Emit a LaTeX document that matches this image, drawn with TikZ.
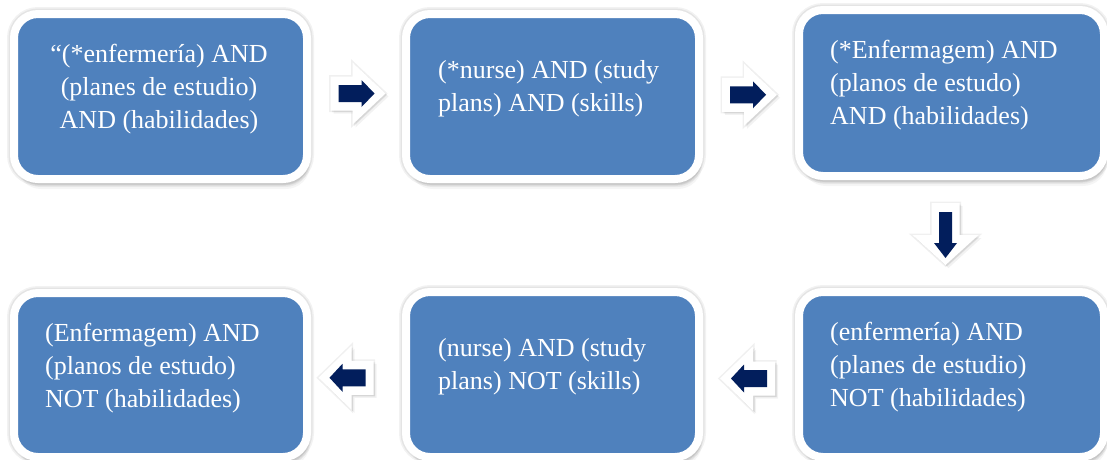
\documentclass[tikz,border=0pt]{standalone}
\usepackage{fontspec}
\setmainfont{Liberation Serif}
\usetikzlibrary{shadows,calc}
\definecolor{boxblue}{HTML}{4F81BD}
\definecolor{navy}{RGB}{2,30,92}
\tikzset{
  qbox/.style={draw=white, line width=8pt, fill=boxblue, rounded corners=24pt,
    inner sep=0pt, minimum width=293pt, minimum height=165pt,
    preaction={draw=black, opacity=0.05, line width=14pt},
    preaction={draw=black, opacity=0.06, line width=11pt},
    drop shadow={opacity=0.08, shadow xshift=3pt, shadow yshift=-10pt},
    drop shadow={opacity=0.10, shadow xshift=2.5pt, shadow yshift=-8pt},
    drop shadow={opacity=0.14, shadow xshift=2pt, shadow yshift=-6pt}},
  qtext/.style={text=white, font=\fontsize{26}{33}\selectfont, inner sep=0pt},
  wshape/.style={fill=white,
    preaction={draw=black, opacity=0.06, line width=3pt},
    drop shadow={opacity=0.10, shadow xshift=3pt, shadow yshift=-3pt},
    drop shadow={opacity=0.15, shadow xshift=1.5pt, shadow yshift=-1.5pt}},
  nshape/.style={fill=navy},
  rarrow/.pic={
    \path[wshape] (-27,-17) -- (-5,-17) -- (-5,-31) -- (28,0) -- (-5,31) -- (-5,17) -- (-27,17) -- cycle;
    \path[nshape] (-19,-8.5) -- (4,-8.5) -- (4,-13.5) -- (17,0) -- (4,13.5) -- (4,8.5) -- (-19,8.5) -- cycle;
  },
  larrow/.pic={
    \path[wshape] (27,-17) -- (5,-17) -- (5,-32) -- (-28,0) -- (5,32) -- (5,17) -- (27,17) -- cycle;
    \path[nshape] (19,-8.5) -- (-4,-8.5) -- (-4,-14) -- (-17,0) -- (-4,14) -- (-4,8.5) -- (19,8.5) -- cycle;
  },
  darrow/.pic={
    \path[wshape] (-14,-31) -- (14,-31) -- (14,1) -- (33,1) -- (0,31) -- (-33,1) -- (-14,1) -- cycle;
    \path[nshape] (-6.5,-22) -- (6.5,-22) -- (6.5,9) -- (11.5,9) -- (0,24) -- (-11.5,9) -- (-6.5,9) -- cycle;
  }
}
\begin{document}
\begin{tikzpicture}[x=1pt, y=-1pt]
  \useasboundingbox (0,0) rectangle (1107,459);

  % boxes
  \node[qbox] (b1) at (160.5,96.5) {};
  \node[qbox] (b2) at (552.5,96.5) {};
  \node[qbox, minimum width=305pt, minimum height=166pt] (b3) at (951.5,93) {};
  \node[qbox, minimum width=305pt] (b4) at (951.5,374.5) {};
  \node[qbox] (b5) at (552.5,374.5) {};
  \node[qbox, minimum height=164pt] (b6) at (160.5,375) {};

  % texts
  \node[qtext, align=center, anchor=center] (t1) at (159,89)
    {“(*enfermería) AND\\(planes de estudio)\\AND (habilidades)};
  \node[qtext, align=left, anchor=west] (t2) at (438,89)
    {(*nurse) AND (study\\plans) AND (skills)};
  \node[qtext, align=left, anchor=west] (t3) at (830,85)
    {(*Enfermagem) AND\\(planos de estudo)\\AND (habilidades)};
  \node[qtext, align=left, anchor=west] (t4) at (830,367)
    {(enfermería) AND\\(planes de estudio)\\NOT (habilidades)};
  \node[qtext, align=left, anchor=west] (t5) at (438,367)
    {(nurse) AND (study\\plans) NOT (skills)};
  \node[qtext, align=left, anchor=west] (t6) at (45,368)
    {(Enfermagem) AND\\(planos de estudo)\\NOT (habilidades)};

  % block arrows between the boxes
  \path ($(b1.east)!0.5!(b2.west)+(1,-3)$) pic {rarrow};
  \path ($(b2.east)!0.5!(b3.west)$) pic {rarrow};
  \path ($(b3.south)!0.5!(b4.north)+(-6,0)$) pic {darrow};
  \path ($(b4.west)!0.5!(b5.east)+(-1,4)$) pic {larrow};
  \path ($(b5.west)!0.5!(b6.east)+(-10,3)$) pic {larrow};
\end{tikzpicture}
\end{document}
